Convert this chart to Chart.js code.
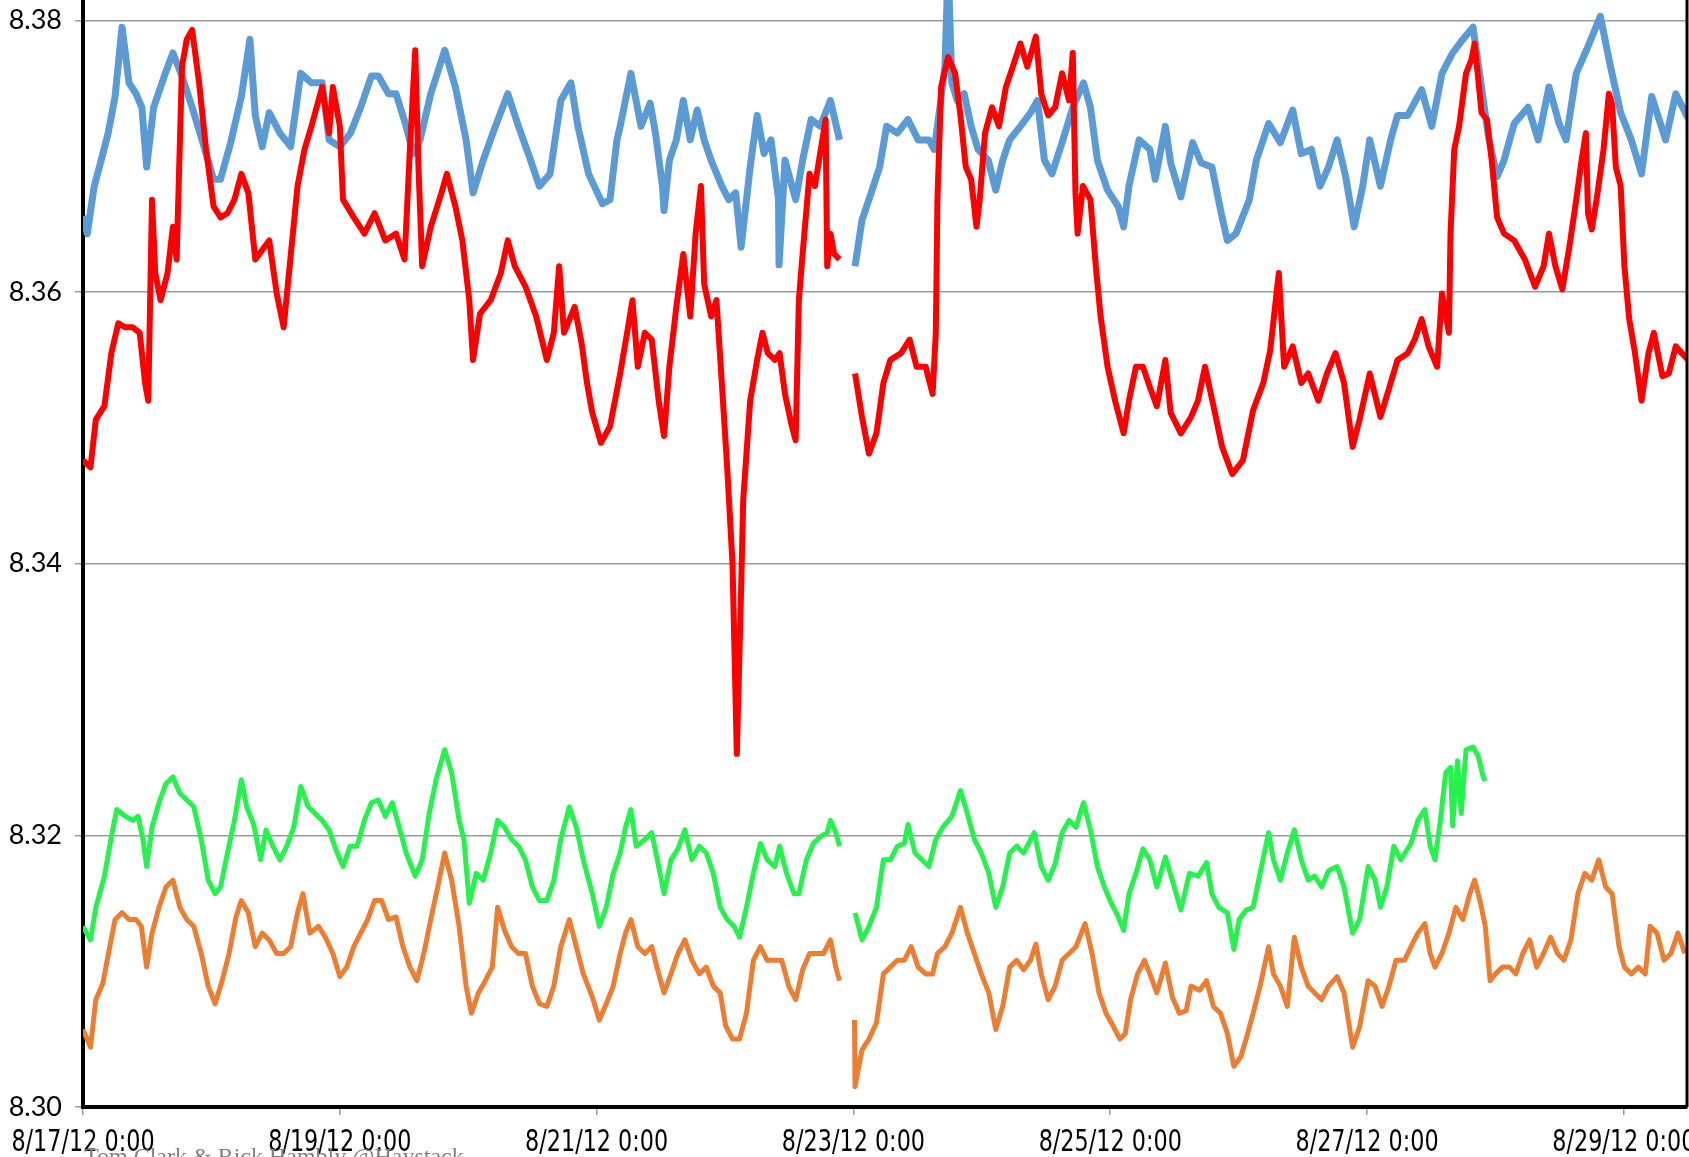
<!DOCTYPE html>
<html>
<head>
<meta charset="utf-8">
<script src="https://cdn.jsdelivr.net/npm/chart.js@4.4.1/dist/chart.umd.min.js"></script>
<style>
  body { margin: 0; background: #fff; }
  canvas { display: block; }
</style>
</head>
<body>
<canvas id="chart" width="1689" height="1157"></canvas>
<script>
// hours since 8/17/12 0:00
const xTickHours = [0, 48, 96, 144, 192, 240, 288];
const xLabels = ["8/17/12 0:00", "8/19/12 0:00", "8/21/12 0:00", "8/23/12 0:00", "8/25/12 0:00", "8/27/12 0:00", "8/29/12 0:00"];
const yTicks = [8.30, 8.32, 8.34, 8.36, 8.38];

const blueHours = [0, 0.8, 2.1, 3.4, 4.7, 6.0, 7.3, 8.6, 9.9, 11.0, 11.9, 13.2, 15.2, 16.8, 18.5, 20.4, 22.4, 24.4, 25.7, 27.6, 29.6, 31.2, 32.2, 33.5, 34.8, 36.8, 38.8, 40.7, 42.7, 44.7, 46, 48, 50, 51.9, 53.9, 55.2, 57.1, 58.5, 60.4, 61.7, 63, 65, 67.6, 69.6, 71.6, 72.9, 74.8, 76.8, 79.4, 81.4, 83.4, 85.3, 87.3, 89.3, 91.2, 92.5, 94.5, 97.1, 98.5, 99.8, 100.4, 102.4, 104.3, 106, 107, 108.3, 108.6, 109.6, 110.9, 112.2, 113.5, 114.8, 116.1, 117.4, 119.4, 120.7, 122, 123, 124.7, 126, 127.3, 128.6, 130.0, 130.1, 131.2, 133.2, 134.5, 136.1, 137.8, 139.7, 141.4, 142.8, 144.3, 145.6, 146.9, 148.9, 150.2, 152.2, 154.2, 156.1, 158.1, 159.1, 160.1, 161.1, 161.7, 162.4, 163.4, 164.7, 166, 167.3, 169.2, 170.6, 171.9, 173.2, 175.2, 177.1, 178.4, 179.7, 181.1, 183, 185, 187, 188.3, 189.6, 191.5, 193.5, 194.5, 195.5, 197.4, 199.4, 200.4, 202.3, 203.3, 205.2, 207.4, 209.0, 211, 212.9, 213.9, 215.5, 218, 219.3, 221.6, 223.8, 226.1, 227.7, 229.6, 231.2, 232.8, 234.4, 236, 237.6, 239.2, 240.5, 242.5, 244.4, 245.7, 247.6, 250.2, 252.1, 254, 256, 257.9, 259.8, 261.1, 262.7, 264.3, 265.6, 267.5, 270.1, 272, 274, 275.9, 277.2, 279.1, 281, 283.6, 285.5, 287.4, 289.4, 291.3, 293.2, 295.8, 297.7, 300];
const blueValues = [8.3656, 8.3643, 8.3678, 8.3697, 8.3717, 8.3744, 8.3795, 8.3754, 8.3746, 8.3736, 8.3692, 8.3736, 8.3759, 8.3776, 8.3759, 8.3736, 8.3710, 8.3683, 8.3683, 8.3710, 8.3744, 8.3786, 8.3730, 8.3707, 8.3732, 8.3717, 8.3707, 8.3761, 8.3754, 8.3754, 8.3712, 8.3707, 8.3717, 8.3736, 8.3759, 8.3759, 8.3746, 8.3746, 8.3722, 8.3702, 8.3712, 8.3746, 8.3778, 8.3751, 8.3712, 8.3673, 8.3697, 8.3719, 8.3746, 8.3722, 8.3700, 8.3678, 8.3687, 8.3741, 8.3754, 8.3722, 8.3687, 8.3665, 8.3668, 8.3712, 8.3722, 8.3761, 8.3722, 8.3739, 8.3717, 8.3678, 8.3660, 8.3697, 8.3712, 8.3741, 8.3712, 8.3734, 8.3712, 8.3697, 8.3678, 8.3668, 8.3673, 8.3633, 8.3692, 8.3730, 8.3702, 8.3712, 8.3668, 8.3620, 8.3697, 8.3668, 8.3697, 8.3727, 8.3722, 8.3741, 8.3712, null, 8.3619, 8.3653, 8.3668, 8.3692, 8.3722, 8.3717, 8.3727, 8.3712, 8.3712, 8.3705, 8.3734, 8.3766, 8.3840, 8.3754, 8.3741, 8.3746, 8.3722, 8.3705, 8.3697, 8.3675, 8.3697, 8.3712, 8.3722, 8.3732, 8.3741, 8.3697, 8.3687, 8.3710, 8.3736, 8.3754, 8.3736, 8.3697, 8.3675, 8.3663, 8.3648, 8.3678, 8.3712, 8.3705, 8.3683, 8.3722, 8.3695, 8.3670, 8.3710, 8.3695, 8.3692, 8.3655, 8.3638, 8.3643, 8.3668, 8.3697, 8.3724, 8.3710, 8.3734, 8.3702, 8.3705, 8.3678, 8.3692, 8.3712, 8.3685, 8.3648, 8.3678, 8.3712, 8.3678, 8.3712, 8.3730, 8.3730, 8.3749, 8.3722, 8.3761, 8.3776, 8.3786, 8.3795, 8.3759, 8.3714, 8.3685, 8.3697, 8.3724, 8.3736, 8.3712, 8.3751, 8.3724, 8.3712, 8.3761, 8.3778, 8.3803, 8.3766, 8.3732, 8.3712, 8.3687, 8.3744, 8.3712, 8.3746, 8.3728];

const redHours = [0, 1.4, 2.4, 4.0, 5.3, 6.6, 7.9, 9.3, 10.6, 11.6, 12.2, 12.9, 13.5, 14.5, 15.8, 16.8, 17.5, 18.5, 19.4, 20.4, 21.7, 23.0, 24.4, 25.7, 27, 28.3, 29.6, 30.9, 32.2, 33.5, 34.8, 36.2, 37.5, 38.8, 40.1, 41.4, 42.7, 44.7, 46, 46.7, 48, 48.6, 50.6, 52.6, 54.5, 56.5, 58.5, 60.1, 61.1, 62.1, 62.7, 63.4, 65, 67, 68, 69.6, 70.9, 72.2, 72.9, 74.2, 76.2, 78.1, 79.4, 80.7, 82.7, 84.7, 86.7, 88, 89, 89.9, 91.9, 93.2, 94.2, 95.2, 96.8, 98.5, 100.4, 101.7, 102.7, 103.7, 105, 106.3, 107.6, 108.6, 109.6, 110.9, 112.2, 113.5, 114.5, 115.5, 116.1, 117.4, 118.4, 119.4, 120.4, 121.4, 122.2, 123.0, 123.4, 124.7, 126, 127, 128, 129.3, 130.2, 131.2, 132.5, 133.2, 133.8, 134.5, 135.8, 136.8, 138.1, 138.8, 139.1, 139.7, 140.4, 141.4, 142.8, 144.3, 145.6, 146.9, 148.3, 149.6, 150.9, 152.9, 154.5, 155.8, 157.5, 158.8, 159.4, 159.7, 160.4, 161.7, 163, 164, 165, 166, 167, 167.6, 168.6, 169.9, 171.2, 172.5, 173.8, 175.2, 176.5, 178.1, 179.1, 180.4, 181.7, 183, 184.3, 185, 185.5, 185.9, 186.9, 188.3, 189.3, 190.2, 191.5, 192.9, 194.5, 195.5, 196.8, 198.1, 199.4, 200.7, 202.3, 203.3, 205.2, 207.1, 208.4, 209.7, 211.3, 212.9, 214.8, 216.8, 218.7, 220.6, 221.9, 223.5, 224.5, 226.1, 227.7, 229, 230.9, 232.5, 234.1, 235.7, 237.3, 238.6, 240.5, 242.5, 244.4, 245.7, 247.6, 248.9, 250.2, 251.5, 253.1, 254, 255.3, 255.6, 256.3, 257.2, 258.5, 259.5, 260.1, 260.8, 261.4, 262.4, 263.3, 264.3, 265.6, 267.5, 269.5, 271.4, 273, 274, 275.2, 276.5, 277.8, 279.1, 280.1, 280.9, 281.3, 282, 282.9, 284.2, 285.2, 285.8, 286.5, 287.4, 288.1, 289, 290, 291.3, 292.6, 293.6, 295.2, 296.4, 297.7, 300];
const redValues = [8.3476, 8.3471, 8.3506, 8.3516, 8.3555, 8.3577, 8.3574, 8.3574, 8.3570, 8.3533, 8.3520, 8.3668, 8.3614, 8.3594, 8.3614, 8.3648, 8.3624, 8.3766, 8.3786, 8.3793, 8.3754, 8.3705, 8.3663, 8.3655, 8.3658, 8.3668, 8.3687, 8.3673, 8.3624, 8.3631, 8.3638, 8.3599, 8.3574, 8.3626, 8.3678, 8.3705, 8.3722, 8.3751, 8.3717, 8.3751, 8.3722, 8.3668, 8.3655, 8.3643, 8.3658, 8.3638, 8.3643, 8.3624, 8.3705, 8.3778, 8.3692, 8.3619, 8.3648, 8.3673, 8.3687, 8.3663, 8.3638, 8.3594, 8.3550, 8.3584, 8.3594, 8.3614, 8.3638, 8.3619, 8.3604, 8.3582, 8.3550, 8.3570, 8.3619, 8.3570, 8.3589, 8.3562, 8.3533, 8.3511, 8.3489, 8.3501, 8.3540, 8.3570, 8.3594, 8.3545, 8.3570, 8.3565, 8.3520, 8.3494, 8.3545, 8.3589, 8.3628, 8.3582, 8.3643, 8.3678, 8.3606, 8.3582, 8.3594, 8.3533, 8.3471, 8.3400, 8.3260, 8.3380, 8.3447, 8.3520, 8.3550, 8.3570, 8.3555, 8.3550, 8.3555, 8.3525, 8.3501, 8.3491, 8.3594, 8.3628, 8.3687, 8.3678, 8.3710, 8.3727, 8.3619, 8.3643, 8.3628, 8.3624, null, 8.3540, 8.3508, 8.3481, 8.3496, 8.3533, 8.3550, 8.3555, 8.3565, 8.3545, 8.3545, 8.3525, 8.3570, 8.3668, 8.3751, 8.3773, 8.3761, 8.3730, 8.3692, 8.3683, 8.3648, 8.3668, 8.3717, 8.3736, 8.3722, 8.3751, 8.3766, 8.3783, 8.3766, 8.3788, 8.3746, 8.3730, 8.3736, 8.3761, 8.3741, 8.3776, 8.3673, 8.3643, 8.3678, 8.3668, 8.3619, 8.3582, 8.3545, 8.3520, 8.3496, 8.3520, 8.3545, 8.3545, 8.3530, 8.3516, 8.3550, 8.3511, 8.3496, 8.3508, 8.3520, 8.3545, 8.3516, 8.3486, 8.3466, 8.3476, 8.3513, 8.3533, 8.3557, 8.3614, 8.3545, 8.3560, 8.3533, 8.3540, 8.3520, 8.3540, 8.3555, 8.3533, 8.3486, 8.3506, 8.3540, 8.3508, 8.3533, 8.3550, 8.3555, 8.3565, 8.3580, 8.3560, 8.3545, 8.3599, 8.3570, 8.3643, 8.3705, 8.3722, 8.3761, 8.3771, 8.3783, 8.3756, 8.3732, 8.3727, 8.3697, 8.3655, 8.3643, 8.3638, 8.3624, 8.3604, 8.3619, 8.3643, 8.3619, 8.3602, 8.3633, 8.3668, 8.3697, 8.3717, 8.3658, 8.3646, 8.3668, 8.3705, 8.3746, 8.3738, 8.3692, 8.3678, 8.3619, 8.3580, 8.3557, 8.3520, 8.3555, 8.3570, 8.3538, 8.3540, 8.3560, 8.3550];

const greenHours = [0, 1.4, 2.4, 4.0, 5.3, 6.3, 7.9, 9.3, 10.3, 11.2, 11.9, 12.9, 14.2, 15.5, 16.8, 18.1, 19.4, 20.7, 22.1, 23.4, 24.7, 25.7, 27, 28.3, 29.6, 30.6, 31.9, 33.2, 34.2, 35.5, 36.8, 38.1, 39.4, 40.7, 42.1, 43.4, 44.7, 46, 47.3, 48.6, 49.9, 51.2, 52.6, 53.9, 55.2, 56.5, 57.8, 59.1, 60.4, 62.1, 63.4, 64.7, 66, 67.6, 68.9, 70.3, 71.2, 72.2, 73.5, 74.8, 76.2, 77.5, 78.8, 80.1, 81.4, 82.7, 84, 85.3, 86.7, 88, 89.3, 90.9, 92.2, 93.5, 95.2, 96.5, 97.8, 99.1, 100.4, 101.4, 102.4, 103.4, 105, 106.3, 107.6, 108.6, 109.9, 111.2, 112.5, 113.8, 115.2, 116.5, 117.8, 119.1, 120.4, 121.7, 122.7, 124, 125.3, 126.6, 127.9, 129.3, 130.2, 131.5, 132.9, 133.8, 135.2, 136.5, 137.8, 139.1, 139.7, 140.7, 141.4, 142.8, 144.3, 145.6, 146.9, 148.3, 149.6, 150.9, 152.2, 153.5, 154.2, 155.5, 156.8, 158.1, 159.4, 160.7, 162.4, 164, 165.3, 166.6, 167.9, 169.3, 170.6, 171.9, 173.2, 174.5, 175.8, 177.8, 179.1, 180.4, 181.7, 183, 184.3, 185.6, 187, 188.3, 189.6, 190.9, 192.2, 193.5, 194.5, 195.5, 196.8, 198.1, 199.4, 200.7, 202.3, 203.6, 205.2, 206.8, 208.4, 210, 211, 212.3, 213.9, 215.1, 216.1, 217.4, 218.7, 220, 221.6, 222.5, 223.8, 225.1, 226.4, 227.7, 229, 230.2, 231.5, 232.8, 234.4, 235.7, 237.3, 238.6, 240.2, 241.5, 242.5, 243.7, 245, 246.3, 248.2, 249.5, 250.8, 251.8, 252.7, 253.7, 254.7, 255.6, 256, 256.9, 257.6, 258.5, 259.8, 260.8, 261.7, 262.1];
const greenValues = [8.3133, 8.3123, 8.3147, 8.3170, 8.3199, 8.3219, 8.3214, 8.3211, 8.3214, 8.3197, 8.3177, 8.3206, 8.3224, 8.3238, 8.3243, 8.3231, 8.3226, 8.3221, 8.3197, 8.3167, 8.3157, 8.3162, 8.3187, 8.3211, 8.3241, 8.3221, 8.3208, 8.3182, 8.3204, 8.3192, 8.3182, 8.3192, 8.3206, 8.3236, 8.3221, 8.3216, 8.3211, 8.3204, 8.3189, 8.3177, 8.3192, 8.3192, 8.3211, 8.3224, 8.3226, 8.3214, 8.3224, 8.3206, 8.3187, 8.3170, 8.3182, 8.3216, 8.3241, 8.3263, 8.3246, 8.3211, 8.3197, 8.3150, 8.3172, 8.3167, 8.3187, 8.3211, 8.3206, 8.3197, 8.3192, 8.3182, 8.3162, 8.3152, 8.3152, 8.3167, 8.3197, 8.3221, 8.3206, 8.3182, 8.3157, 8.3133, 8.3147, 8.3172, 8.3187, 8.3206, 8.3219, 8.3192, 8.3197, 8.3202, 8.3177, 8.3157, 8.3182, 8.3190, 8.3204, 8.3182, 8.3192, 8.3187, 8.3172, 8.3147, 8.3138, 8.3133, 8.3125, 8.3147, 8.3172, 8.3194, 8.3182, 8.3177, 8.3192, 8.3172, 8.3157, 8.3157, 8.3182, 8.3194, 8.3199, 8.3202, 8.3211, 8.3202, 8.3192, null, 8.3143, 8.3123, 8.3133, 8.3147, 8.3182, 8.3182, 8.3192, 8.3194, 8.3208, 8.3187, 8.3182, 8.3177, 8.3197, 8.3206, 8.3214, 8.3233, 8.3216, 8.3197, 8.3187, 8.3172, 8.3147, 8.3162, 8.3187, 8.3192, 8.3187, 8.3202, 8.3177, 8.3167, 8.3179, 8.3202, 8.3211, 8.3206, 8.3224, 8.3204, 8.3177, 8.3162, 8.3150, 8.3140, 8.3130, 8.3157, 8.3172, 8.3190, 8.3182, 8.3162, 8.3184, 8.3167, 8.3145, 8.3172, 8.3170, 8.3180, 8.3157, 8.3147, 8.3143, 8.3116, 8.3138, 8.3145, 8.3147, 8.3172, 8.3202, 8.3182, 8.3167, 8.3187, 8.3204, 8.3182, 8.3167, 8.3170, 8.3162, 8.3174, 8.3177, 8.3162, 8.3128, 8.3138, 8.3177, 8.3167, 8.3147, 8.3162, 8.3192, 8.3182, 8.3194, 8.3211, 8.3219, 8.3192, 8.3182, 8.3211, 8.3246, 8.3250, 8.3207, 8.3255, 8.3216, 8.3263, 8.3265, 8.3258, 8.3243, 8.3240];

const orangeHours = [0, 1.4, 2.4, 3.7, 5, 6, 7.3, 8.6, 9.9, 10.9, 11.9, 12.9, 14.2, 15.5, 16.8, 18.1, 19.4, 20.7, 22.1, 23.4, 24.7, 26, 27.3, 28.6, 29.6, 30.9, 32.2, 33.5, 34.8, 36.2, 37.5, 38.8, 40.1, 41.1, 42.4, 44, 45.3, 46.7, 48, 49.3, 50.6, 51.9, 53.2, 54.5, 55.8, 57.1, 58.5, 59.8, 61.1, 62.4, 63.7, 65, 66.3, 67.6, 68.9, 70.3, 71.6, 72.6, 73.9, 75.2, 76.5, 77.5, 78.8, 80.1, 81.4, 82.7, 84, 85.3, 86.7, 88, 89.3, 90.9, 92.2, 93.5, 95.2, 96.5, 97.8, 99.1, 100.4, 101.4, 102.4, 103.7, 105, 106.3, 107.6, 108.6, 109.9, 111.2, 112.5, 113.8, 115.2, 116.5, 117.8, 119.1, 120.1, 121.4, 122.7, 124, 125.3, 126.6, 127.9, 129.3, 130.6, 131.9, 133.2, 134.5, 135.8, 137.1, 138.4, 139.7, 140.7, 141.4, 142.8, 144.2, 144.3, 145.6, 146.9, 148.3, 149.6, 150.9, 152.2, 153.5, 154.8, 156.1, 157.5, 158.8, 159.7, 161.1, 162.4, 164, 165.3, 166.6, 167.9, 169.3, 170.6, 171.9, 173.2, 174.5, 175.8, 177.1, 178.1, 179.1, 180.4, 181.7, 183, 184.3, 185.6, 187.3, 188.6, 189.9, 191.2, 192.5, 193.8, 194.8, 195.8, 197.1, 198.4, 199.4, 200.7, 202.3, 203.6, 204.9, 206.2, 207.1, 208.7, 210, 211.3, 212.6, 213.9, 215.1, 216.4, 217.4, 218.7, 220, 221.6, 222.5, 223.8, 225.1, 226.4, 227.7, 229, 230.2, 231.5, 232.8, 234.4, 235.7, 237.3, 238.6, 240.2, 241.5, 242.8, 244.1, 245.4, 247, 248.2, 249.5, 250.8, 251.8, 252.7, 254, 255.3, 256.6, 257.9, 259.2, 260.1, 261.1, 262.1, 263, 264, 265.3, 266.6, 267.8, 269.1, 270.4, 271.7, 273, 274.3, 275.6, 276.8, 278.1, 279.4, 280.7, 282, 283.3, 284.6, 285.8, 287.1, 288.1, 289.4, 290.7, 292, 292.9, 294.2, 295.5, 296.8, 298.1, 299.4];
const orangeValues = [8.3057, 8.3044, 8.3079, 8.3091, 8.3118, 8.3138, 8.3143, 8.3138, 8.3138, 8.3133, 8.3103, 8.3128, 8.3147, 8.3162, 8.3167, 8.3147, 8.3138, 8.3133, 8.3113, 8.3089, 8.3076, 8.3093, 8.3113, 8.3140, 8.3152, 8.3143, 8.3118, 8.3128, 8.3123, 8.3113, 8.3113, 8.3118, 8.3143, 8.3157, 8.3128, 8.3133, 8.3125, 8.3113, 8.3096, 8.3103, 8.3118, 8.3128, 8.3138, 8.3152, 8.3152, 8.3138, 8.3140, 8.3118, 8.3103, 8.3093, 8.3113, 8.3138, 8.3162, 8.3187, 8.3167, 8.3133, 8.3089, 8.3069, 8.3084, 8.3093, 8.3103, 8.3147, 8.3130, 8.3118, 8.3113, 8.3113, 8.3089, 8.3076, 8.3074, 8.3089, 8.3118, 8.3138, 8.3118, 8.3098, 8.3081, 8.3064, 8.3076, 8.3089, 8.3113, 8.3128, 8.3138, 8.3118, 8.3113, 8.3118, 8.3098, 8.3084, 8.3098, 8.3113, 8.3123, 8.3108, 8.3098, 8.3103, 8.3089, 8.3084, 8.3060, 8.3050, 8.3050, 8.3069, 8.3108, 8.3118, 8.3108, 8.3108, 8.3108, 8.3089, 8.3079, 8.3101, 8.3113, 8.3113, 8.3113, 8.3123, 8.3103, 8.3093, null, 8.3064, 8.3015, 8.3042, 8.3050, 8.3062, 8.3098, 8.3103, 8.3108, 8.3108, 8.3118, 8.3103, 8.3098, 8.3098, 8.3113, 8.3118, 8.3128, 8.3147, 8.3128, 8.3113, 8.3098, 8.3084, 8.3057, 8.3074, 8.3103, 8.3108, 8.3101, 8.3108, 8.3120, 8.3098, 8.3079, 8.3089, 8.3108, 8.3113, 8.3118, 8.3135, 8.3113, 8.3084, 8.3069, 8.3060, 8.3050, 8.3054, 8.3079, 8.3098, 8.3108, 8.3098, 8.3084, 8.3106, 8.3081, 8.3069, 8.3071, 8.3089, 8.3086, 8.3093, 8.3074, 8.3069, 8.3054, 8.3030, 8.3037, 8.3050, 8.3069, 8.3089, 8.3118, 8.3098, 8.3089, 8.3074, 8.3125, 8.3103, 8.3089, 8.3084, 8.3079, 8.3089, 8.3096, 8.3084, 8.3044, 8.3059, 8.3093, 8.3089, 8.3074, 8.3089, 8.3108, 8.3108, 8.3118, 8.3128, 8.3135, 8.3113, 8.3103, 8.3113, 8.3128, 8.3147, 8.3138, 8.3157, 8.3167, 8.3152, 8.3133, 8.3093, 8.3098, 8.3103, 8.3103, 8.3098, 8.3113, 8.3123, 8.3103, 8.3113, 8.3125, 8.3113, 8.3108, 8.3123, 8.3157, 8.3172, 8.3167, 8.3182, 8.3162, 8.3157, 8.3118, 8.3103, 8.3098, 8.3103, 8.3098, 8.3133, 8.3128, 8.3108, 8.3113, 8.3128, 8.3113];

const toPoints = (hours, values) => hours.map((h, i) => ({ x: h, y: values[i] }));

// right frame line, narrow date labels, credit line
const frame = {
  id: "frame",
  afterDraw: (chart) => {
    const ctx = chart.ctx;
    const area = chart.chartArea;
    const xScale = chart.scales.x;
    ctx.save();
    ctx.fillStyle = "#000";
    ctx.fillRect(area.right - 1.5, 0, 3, area.bottom);

    ctx.font = '31px "DejaVu Sans Condensed", "DejaVu Sans", sans-serif';
    ctx.textAlign = "center";
    ctx.textBaseline = "middle";
    xTickHours.forEach((h, i) => {
      ctx.save();
      ctx.translate(xScale.getPixelForValue(h), area.bottom + 36);
      ctx.scale(0.8, 1);
      ctx.fillText(xLabels[i], 0, 0);
      ctx.restore();
    });

    ctx.fillStyle = "#808080";
    ctx.font = '24px "Liberation Serif", serif';
    ctx.textAlign = "left";
    ctx.textBaseline = "alphabetic";
    ctx.fillText("Tom Clark & Rick Hambly @Haystack", 84, 1164);
    ctx.restore();
  },
};

const series = (label, hours, values, color, width) => ({
  label: label,
  data: toPoints(hours, values),
  borderColor: color,
  borderWidth: width,
  borderJoinStyle: "round",
  pointRadius: 0,
  tension: 0,
  spanGaps: false,
});

const chart = new Chart(document.getElementById("chart"), {
  type: "line",
  data: {
    datasets: [
      series("red", redHours, redValues, "#ff0000", 6),
      series("blue", blueHours, blueValues, "#5b9bd5", 7),
      series("green", greenHours, greenValues, "#26f24e", 5),
      series("orange", orangeHours, orangeValues, "#ed7d31", 5),
    ],
  },
  options: {
    responsive: false,
    animation: false,
    layout: { padding: { right: 2 } },
    plugins: { legend: { display: false }, tooltip: { enabled: false } },
    scales: {
      x: {
        type: "linear",
        min: 0,
        max: 299.8,
        afterBuildTicks: (scale) => {
          scale.ticks = xTickHours.map((v) => ({ value: v }));
        },
        afterFit: (scale) => {
          scale.height = 50;
          scale.paddingLeft = 0;
          scale.paddingRight = 0;
        },
        ticks: { display: false },
        grid: { drawOnChartArea: false, drawTicks: true, tickLength: 8, color: "#999", lineWidth: 1.5 },
        border: { color: "#000", width: 4 },
      },
      y: {
        min: 8.30,
        max: 8.3815,
        afterBuildTicks: (scale) => {
          scale.ticks = yTicks.map((v) => ({ value: v }));
        },
        afterFit: (scale) => {
          scale.width = 83;
          scale.paddingTop = 0;
          scale.paddingBottom = 0;
        },
        ticks: {
          callback: (v) => v.toFixed(2),
          color: "#000",
          padding: 13,
          font: { family: "Lato, sans-serif", size: 27 },
        },
        grid: { color: "#9a9a9a", lineWidth: 1.5, tickLength: 8 },
        border: { color: "#000", width: 4 },
      },
    },
  },
  plugins: [frame],
});
</script>
</body>
</html>
